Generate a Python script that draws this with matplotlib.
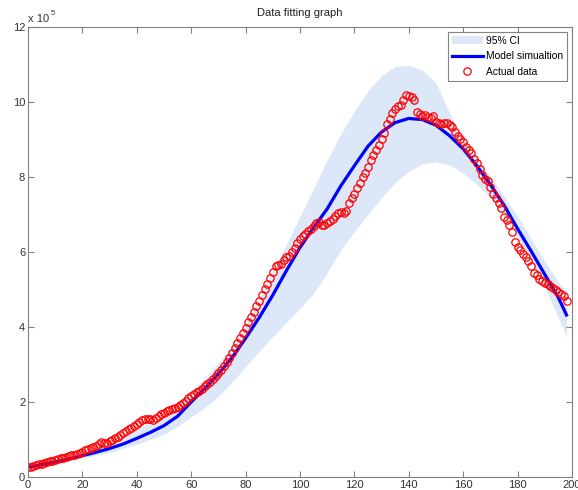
import numpy as np
import matplotlib
matplotlib.use("Agg")
import matplotlib.pyplot as plt

plt.rcParams['font.family'] = ['Liberation Sans', 'DejaVu Sans']

# observed data (x 1e5), days 0..198
actual = [
    0.26, 0.28, 0.30, 0.32, 0.34, 0.36, 0.38, 0.40, 0.42, 0.44,
    0.46, 0.48, 0.50, 0.52, 0.54, 0.56, 0.58, 0.60, 0.62, 0.65,
    0.68, 0.71, 0.74, 0.77, 0.80, 0.83, 0.87, 0.93, 0.91, 0.90,
    0.95, 0.99, 1.03, 1.07, 1.12, 1.17, 1.22, 1.28, 1.32, 1.37,
    1.42, 1.47, 1.51, 1.54, 1.56, 1.55, 1.53, 1.57, 1.62, 1.67,
    1.71, 1.75, 1.78, 1.82, 1.85, 1.88, 1.93, 1.98, 2.04, 2.10,
    2.17, 2.22, 2.27, 2.30, 2.35, 2.42, 2.48, 2.54, 2.62, 2.69,
    2.78, 2.86, 2.96, 3.06, 3.18, 3.30, 3.43, 3.57, 3.70, 3.84,
    3.98, 4.12, 4.26, 4.41, 4.55, 4.70, 4.85, 5.00, 5.15, 5.30,
    5.47, 5.62, 5.65, 5.68, 5.78, 5.86, 5.90, 6.00, 6.10, 6.25,
    6.35, 6.42, 6.48, 6.55, 6.62, 6.70, 6.78, 6.80, 6.72, 6.72,
    6.76, 6.82, 6.88, 6.95, 7.05, 7.07, 7.03, 7.10, 7.30, 7.45,
    7.55, 7.70, 7.85, 8.00, 8.10, 8.27, 8.45, 8.58, 8.72, 8.85,
    9.02, 9.18, 9.40, 9.55, 9.70, 9.80, 9.88, 9.92, 10.05, 10.18,
    10.16, 10.12, 10.05, 9.72, 9.68, 9.62, 9.66, 9.60, 9.58, 9.62,
    9.47, 9.45, 9.42, 9.43, 9.45, 9.38, 9.34, 9.20, 9.10, 9.00,
    8.92, 8.80, 8.72, 8.63, 8.48, 8.37, 8.20, 8.05, 7.95, 7.88,
    7.74, 7.55, 7.43, 7.30, 7.17, 6.94, 6.84, 6.72, 6.54, 6.27,
    6.12, 6.05, 5.95, 5.87, 5.75, 5.62, 5.45, 5.38, 5.28, 5.22,
    5.18, 5.14, 5.08, 5.03, 4.98, 4.92, 4.87, 4.82, 4.70,
]
days = np.arange(len(actual))

# model curve and 95% CI, read every 5 days
curve_days = [0, 5, 10, 15, 20, 25, 30, 35, 40, 45, 50, 55, 60, 65, 70, 75,
              80, 85, 90, 95, 100, 105, 110, 115, 120, 125, 130, 135, 140,
              145, 150, 155, 160, 165, 170, 175, 180, 185, 190, 195, 198]
model = [0.26, 0.33, 0.40, 0.48, 0.57, 0.66, 0.76, 0.88, 1.03, 1.19, 1.37,
         1.62, 2.00, 2.36, 2.75, 3.18, 3.70, 4.25, 4.85, 5.50, 6.12, 6.65,
         7.15, 7.76, 8.30, 8.82, 9.20, 9.45, 9.56, 9.53, 9.38, 9.10, 8.75,
         8.30, 7.80, 7.25, 6.62, 6.02, 5.40, 4.78, 4.32]
ci_upper = [0.28, 0.34, 0.42, 0.51, 0.62, 0.74, 0.88, 1.06, 1.30, 1.46, 1.64,
            1.92, 2.28, 2.65, 3.05, 3.50, 4.05, 4.75, 5.50, 6.20, 6.95, 7.70,
            8.45, 9.15, 9.75, 10.30, 10.70, 10.95, 10.97, 10.85, 10.50, 9.70,
            9.00, 8.50, 8.02, 7.50, 6.95, 6.35, 5.75, 5.20, 4.95]
ci_lower = [0.24, 0.30, 0.36, 0.43, 0.50, 0.58, 0.66, 0.76, 0.88, 1.00, 1.15,
            1.35, 1.60, 1.85, 2.15, 2.52, 2.95, 3.35, 3.75, 4.12, 4.50, 4.90,
            5.45, 6.05, 6.55, 7.00, 7.45, 7.85, 8.15, 8.35, 8.40, 8.32, 8.10,
            7.80, 7.45, 6.95, 6.35, 5.75, 5.05, 4.25, 3.73]

fig = plt.figure(figsize=(5.78, 4.90), dpi=100)
ax = fig.add_axes([0.0484, 0.0265, 0.9412, 0.9185])

ax.fill_between(curve_days, ci_lower, ci_upper, color='#dce8f8', linewidth=0,
                label='95% CI')
ax.plot(curve_days, model, color='#0000ff', linewidth=2.3,
        label='Model simualtion')
ax.plot(days, actual, 'o', mfc='none', mec='#ff0000', ms=5.3, mew=0.9,
        label='Actual data')

ax.set_xlim(0, 200)
ax.set_ylim(0, 12)
ax.set_xticks(range(0, 201, 20))
ax.set_yticks(range(0, 13, 2))
ax.tick_params(direction='in', top=True, right=True, length=4, width=0.8,
               colors='#808080', labelcolor='#333333', labelsize=8, pad=2)
for s in ax.spines.values():
    s.set_color('#808080')
    s.set_linewidth(0.8)

ax.set_title('Data fitting graph', fontsize=8, color='#222222', pad=8)
ax.text(0.0, 1.006, 'x 10', transform=ax.transAxes, fontsize=8,
        color='#333333', ha='left', va='bottom')
ax.text(0.0425, 1.022, '5', transform=ax.transAxes, fontsize=5.5,
        color='#333333', ha='left', va='bottom')

leg = ax.legend(loc='upper right', fontsize=7.4, frameon=True, fancybox=False,
                edgecolor='#666666', handlelength=3.0, borderaxespad=0.5,
                labelspacing=0.55, borderpad=0.35, handletextpad=0.35)
leg.get_frame().set_linewidth(0.8)

fig.savefig('out.png', dpi=100)
